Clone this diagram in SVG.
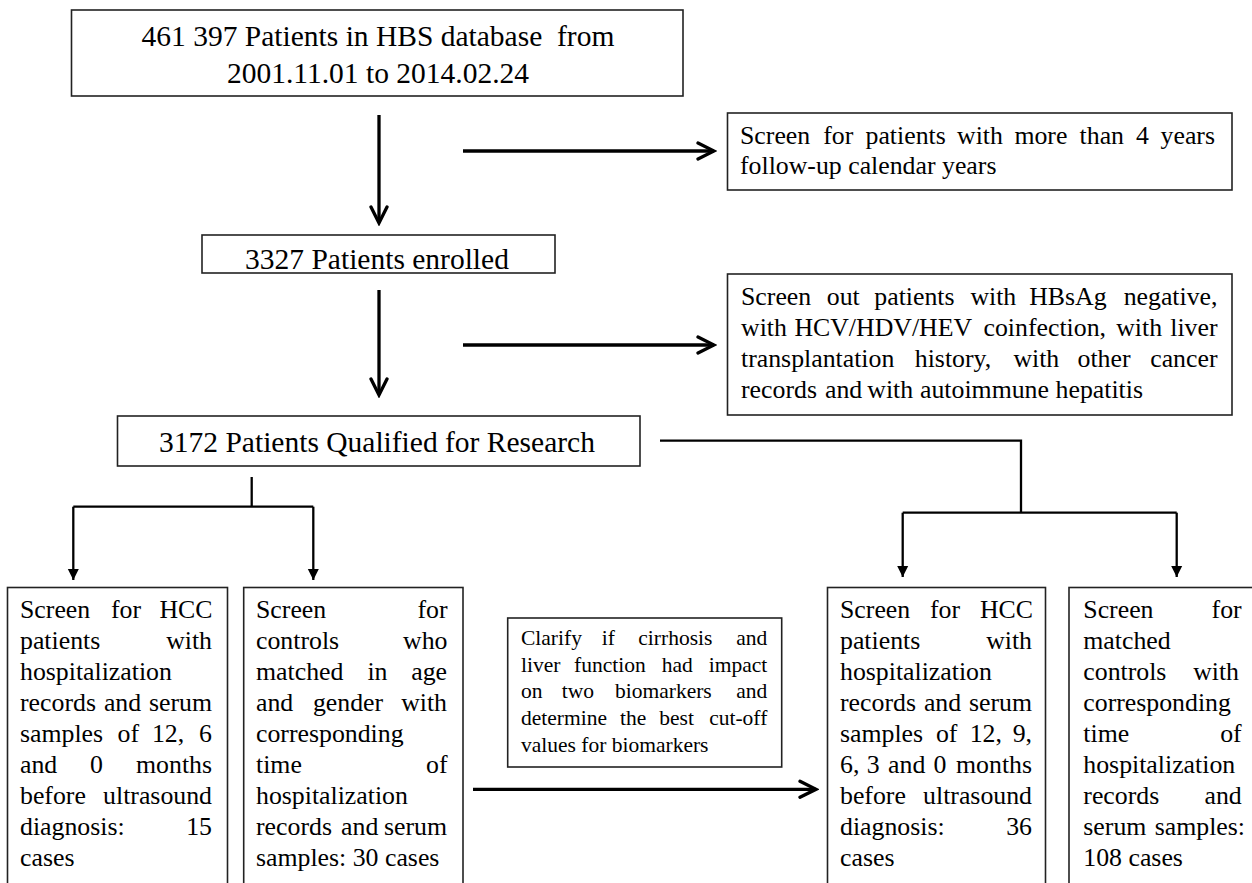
<svg xmlns="http://www.w3.org/2000/svg" width="1252" height="883" viewBox="0 0 1252 883">
<style>
.box{fill:#fff;stroke:#222;stroke-width:1.6}
.t{font-family:"Liberation Serif","Times New Roman",Times,serif;fill:#000}
.big{font-size:29.5px}
.mid{font-size:25.8px}
.sm{font-size:21.5px}
.thick{fill:none;stroke:#000;stroke-width:3.3}
.thin{fill:none;stroke:#000;stroke-width:2.3}
.m{text-anchor:middle}
.e{text-anchor:end}
</style>
<defs>
<marker id="chev" markerUnits="userSpaceOnUse" viewBox="0 0 22 22" markerWidth="22" markerHeight="22" refX="19" refY="11" orient="auto">
<path d="M3,3 L19,11 L3,19" fill="none" stroke="#000" stroke-width="3.3" stroke-linecap="round" stroke-linejoin="miter"/>
</marker>
<marker id="tri" markerUnits="userSpaceOnUse" viewBox="0 0 12 12" markerWidth="12" markerHeight="12" refX="11" refY="6" orient="auto">
<path d="M0,0.5 L11,6 L0,11.5 z" fill="#000"/>
</marker>
</defs>

<g id="connectors">
<path class="thick" d="M379,115 V223" marker-end="url(#chev)"/>
<path class="thick" d="M463,151 H714" marker-end="url(#chev)"/>
<path class="thick" d="M379,290 V395" marker-end="url(#chev)"/>
<path class="thick" d="M463,345 H714" marker-end="url(#chev)"/>
<path class="thin" d="M251.7,477 V506.7"/>
<path class="thin" d="M73.3,506.7 H313.3"/>
<path class="thin" d="M73.3,506.7 V580" marker-end="url(#tri)"/>
<path class="thin" d="M313.3,506.7 V580" marker-end="url(#tri)"/>
<path class="thin" d="M660,440.7 H1021 V512.7"/>
<path class="thin" d="M902.7,512.7 H1176.7"/>
<path class="thin" d="M902.7,512.7 V577" marker-end="url(#tri)"/>
<path class="thin" d="M1176.7,512.7 V577" marker-end="url(#tri)"/>
<path class="thick" d="M473,789.3 H816" marker-end="url(#chev)"/>
</g>

<g id="n_database">
<rect class="box" x="71.5" y="10" width="611.5" height="86"/>
<text class="t big m" x="378" y="46" xml:space="preserve">461 397 Patients in HBS database  from</text>
<text class="t big m" x="378" y="83">2001.11.01 to 2014.02.24</text>
</g>

<g id="n_enrolled">
<rect class="box" x="202" y="235" width="353" height="38"/>
<text class="t big m" x="377" y="268.5">3327 Patients enrolled</text>
</g>

<g id="n_qualified">
<rect class="box" x="117.5" y="416" width="522.5" height="50"/>
<text class="t big m" x="377" y="452">3172 Patients Qualified for Research</text>
</g>

<g id="n_screen_followup">
<rect class="box" x="727.5" y="113" width="504.5" height="77"/>
<text class="t mid" y="144"><tspan x="740">Screen</tspan><tspan x="823.2">for</tspan><tspan x="865.5">patients</tspan><tspan x="957">with</tspan><tspan x="1014.4">more</tspan><tspan x="1079.6">than</tspan><tspan x="1136">4</tspan><tspan class="e" x="1215">years</tspan></text>
<text class="t mid" x="740" y="174">follow-up calendar years</text>
</g>

<g id="n_screen_out">
<rect class="box" x="727.5" y="274" width="504.5" height="141"/>
<text class="t mid" y="305"><tspan x="741">Screen</tspan><tspan x="826.8">out</tspan><tspan x="874.3">patients</tspan><tspan x="970.4">with</tspan><tspan x="1029.2">HBsAg</tspan><tspan class="e" x="1217.5">negative,</tspan></text>
<text class="t mid" y="336"><tspan x="741">with</tspan><tspan x="794.4">HCV/HDV/HEV</tspan><tspan x="983.5">coinfection,</tspan><tspan x="1116.2">with</tspan><tspan class="e" x="1217.5">liver</tspan></text>
<text class="t mid" y="367"><tspan x="741">transplantation</tspan><tspan x="914.8">history,</tspan><tspan x="1013.4">with</tspan><tspan x="1077.5">other</tspan><tspan class="e" x="1217.5">cancer</tspan></text>
<text class="t mid" y="398"><tspan x="741">records</tspan><tspan x="825">and</tspan><tspan x="867.3">with</tspan><tspan x="920">autoimmune</tspan><tspan x="1055.6">hepatitis</tspan></text>
</g>

<g id="n_hcc_15">
<rect class="box" x="7.5" y="587.5" width="220" height="330"/>
<text class="t mid" y="618"><tspan x="20">Screen</tspan><tspan class="m" x="126">for</tspan><tspan class="e" x="212.5">HCC</tspan></text>
<text class="t mid" y="649"><tspan x="20">patients</tspan><tspan class="e" x="212">with</tspan></text>
<text class="t mid" x="20" y="680">hospitalization</text>
<text class="t mid" y="711"><tspan x="20">records</tspan><tspan class="m" x="122.5">and</tspan><tspan class="e" x="212">serum</tspan></text>
<text class="t mid" y="742"><tspan x="20">samples</tspan><tspan class="m" x="128.3">of</tspan><tspan class="m" x="168">12,</tspan><tspan class="e" x="212">6</tspan></text>
<text class="t mid" y="773"><tspan x="20">and</tspan><tspan class="m" x="96.5">0</tspan><tspan class="e" x="212">months</tspan></text>
<text class="t mid" y="804"><tspan x="20">before</tspan><tspan class="e" x="212">ultrasound</tspan></text>
<text class="t mid" y="835"><tspan x="20">diagnosis:</tspan><tspan class="e" x="212">15</tspan></text>
<text class="t mid" x="20" y="866">cases</text>
</g>

<g id="n_controls_30">
<rect class="box" x="243.7" y="587.5" width="219.3" height="330"/>
<text class="t mid" y="618"><tspan x="256">Screen</tspan><tspan class="e" x="447.5">for</tspan></text>
<text class="t mid" y="649"><tspan x="256">controls</tspan><tspan class="e" x="447.5">who</tspan></text>
<text class="t mid" y="680"><tspan x="256">matched</tspan><tspan class="m" x="377.5">in</tspan><tspan class="e" x="447">age</tspan></text>
<text class="t mid" y="711"><tspan x="256">and</tspan><tspan class="m" x="348">gender</tspan><tspan class="e" x="447">with</tspan></text>
<text class="t mid" x="256" y="742">corresponding</text>
<text class="t mid" y="773"><tspan x="256">time</tspan><tspan class="e" x="447.5">of</tspan></text>
<text class="t mid" x="256" y="804">hospitalization</text>
<text class="t mid" y="835"><tspan x="256">records</tspan><tspan class="m" x="359.7">and</tspan><tspan class="e" x="447">serum</tspan></text>
<text class="t mid" x="256" y="866">samples: 30 cases</text>
</g>

<g id="n_clarify">
<rect class="box" x="507.7" y="618" width="274" height="149"/>
<text class="t sm" y="645"><tspan x="521">Clarify</tspan><tspan x="601.7">if</tspan><tspan x="638.3">cirrhosis</tspan><tspan class="e" x="767.3">and</tspan></text>
<text class="t sm" y="671.7"><tspan x="521">liver</tspan><tspan x="574">function</tspan><tspan x="661.7">had</tspan><tspan class="e" x="767.3">impact</tspan></text>
<text class="t sm" y="698.4"><tspan x="521">on</tspan><tspan x="561.7">two</tspan><tspan x="615">biomarkers</tspan><tspan class="e" x="767.3">and</tspan></text>
<text class="t sm" y="725"><tspan x="521">determine</tspan><tspan x="620">the</tspan><tspan x="659.3">best</tspan><tspan class="e" x="767.3">cut-off</tspan></text>
<text class="t sm" x="521" y="751.7">values for biomarkers</text>
</g>

<g id="n_hcc_36">
<rect class="box" x="827.5" y="587.5" width="218" height="330"/>
<text class="t mid" y="618"><tspan x="840">Screen</tspan><tspan class="m" x="945">for</tspan><tspan class="e" x="1033">HCC</tspan></text>
<text class="t mid" y="649"><tspan x="840">patients</tspan><tspan class="e" x="1032">with</tspan></text>
<text class="t mid" x="840" y="680">hospitalization</text>
<text class="t mid" y="711"><tspan x="840">records</tspan><tspan class="m" x="942.5">and</tspan><tspan class="e" x="1032">serum</tspan></text>
<text class="t mid" y="742"><tspan x="840">samples</tspan><tspan class="m" x="946.7">of</tspan><tspan class="m" x="985.8">12,</tspan><tspan class="e" x="1032">9,</tspan></text>
<text class="t mid" y="773"><tspan x="840">6,</tspan><tspan class="m" x="873.3">3</tspan><tspan class="m" x="906.7">and</tspan><tspan class="m" x="940">0</tspan><tspan class="e" x="1032">months</tspan></text>
<text class="t mid" y="804"><tspan x="840">before</tspan><tspan class="e" x="1032">ultrasound</tspan></text>
<text class="t mid" y="835"><tspan x="840">diagnosis:</tspan><tspan class="e" x="1032">36</tspan></text>
<text class="t mid" x="840" y="866">cases</text>
</g>

<g id="n_controls_108">
<rect class="box" x="1069" y="587.5" width="200" height="330"/>
<text class="t mid" y="618"><tspan x="1083.3">Screen</tspan><tspan class="e" x="1241.7">for</tspan></text>
<text class="t mid" x="1083.3" y="649">matched</text>
<text class="t mid" y="680"><tspan x="1083.3">controls</tspan><tspan class="e" x="1239">with</tspan></text>
<text class="t mid" x="1083.3" y="711">corresponding</text>
<text class="t mid" y="742"><tspan x="1083.3">time</tspan><tspan class="e" x="1241.7">of</tspan></text>
<text class="t mid" x="1083.3" y="773">hospitalization</text>
<text class="t mid" y="804"><tspan x="1083.3">records</tspan><tspan class="e" x="1241.7">and</tspan></text>
<text class="t mid" y="835"><tspan x="1083.3">serum</tspan><tspan class="e" x="1245">samples:</tspan></text>
<text class="t mid" x="1083.3" y="866">108 cases</text>
</g>
</svg>
